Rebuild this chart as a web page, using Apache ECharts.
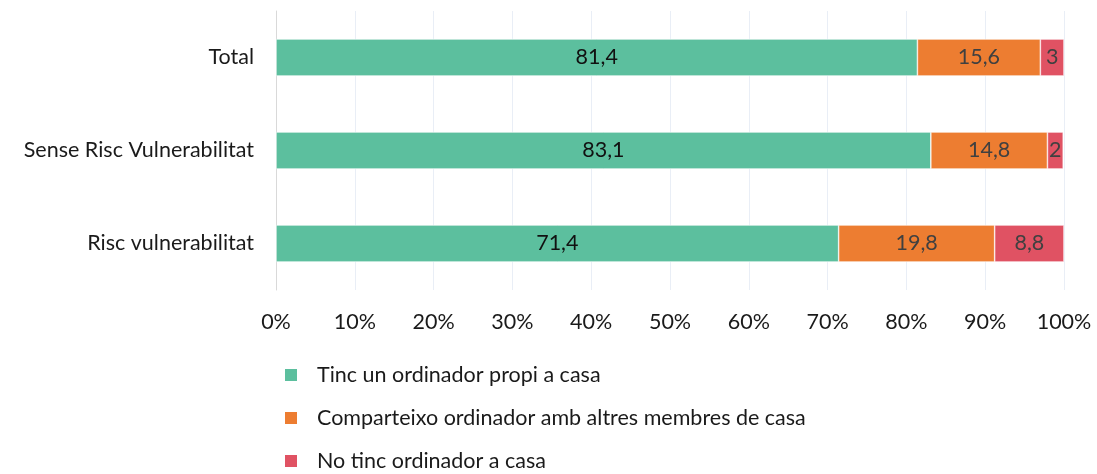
<!DOCTYPE html>
<html>
<head>
<meta charset="utf-8">
<script src="https://cdn.jsdelivr.net/npm/echarts@6/dist/echarts.min.js"></script>
<style>
  html, body { margin: 0; padding: 0; background: #fff; }
  #chart { width: 1097px; height: 474px; }
</style>
</head>
<body>
<div id="chart"></div>
<script>
const categories = ['Total', 'Sense Risc Vulnerabilitat', 'Risc vulnerabilitat'];
const seriesNames = [
  'Tinc un ordinador propi a casa',
  'Comparteixo ordinador amb altres membres de casa',
  'No tinc ordinador a casa',
];
const ownPc = [81.4, 83.1, 71.4];
const sharedPc = [15.6, 14.8, 19.8];
const noPc = [3, 2, 8.8];
const colors = ['#5cbf9e', '#ed7d31', '#e05263'];
const labelColors = ['#111', '#404040', '#404040'];

const font = 'Lato, sans-serif';
const fontSize = 21.5;
const chart = echarts.init(document.getElementById('chart'));

const makeSeries = (name, data, i) => ({
  name,
  type: 'bar',
  stack: 'total',
  data,
  barWidth: 37,
  itemStyle: { color: colors[i], borderColor: '#fff', borderWidth: 0.6 },
  label: {
    show: true,
    position: 'inside',
    color: labelColors[i],
    fontFamily: font,
    fontSize,
    formatter: (p) => String(p.value).replace('.', ','),
  },
});

chart.setOption({
  animation: false,
  color: colors,
  grid: { left: 276, right: 33, top: 11, bottom: 184 },
  legend: {
    orient: 'vertical',
    left: 278,
    top: 358,
    height: 200,
    itemWidth: 14,
    itemHeight: 14,
    itemGap: 19,
    icon: 'rect',
    textStyle: { fontFamily: font, fontSize, lineHeight: 24, color: '#1a1a1a', padding: [0, 0, 0, 14] },
    data: seriesNames,
  },
  xAxis: {
    type: 'value',
    min: 0,
    max: 100,
    interval: 10,
    axisLine: { show: false },
    axisTick: { show: false },
    splitLine: { lineStyle: { color: '#e9eef6', width: 1 } },
    axisLabel: {
      formatter: '{value}%',
      fontFamily: font,
      fontSize,
      color: '#1a1a1a',
      margin: 21,
    },
  },
  yAxis: {
    type: 'category',
    inverse: true,
    data: categories,
    axisLine: { show: true, lineStyle: { color: '#d9d9d9' } },
    axisTick: { show: false },
    axisLabel: { fontFamily: font, fontSize, color: '#1a1a1a', margin: 22 },
  },
  series: [
    makeSeries(seriesNames[0], ownPc, 0),
    makeSeries(seriesNames[1], sharedPc, 1),
    makeSeries(seriesNames[2], noPc, 2),
  ],
});
</script>
</body>
</html>
